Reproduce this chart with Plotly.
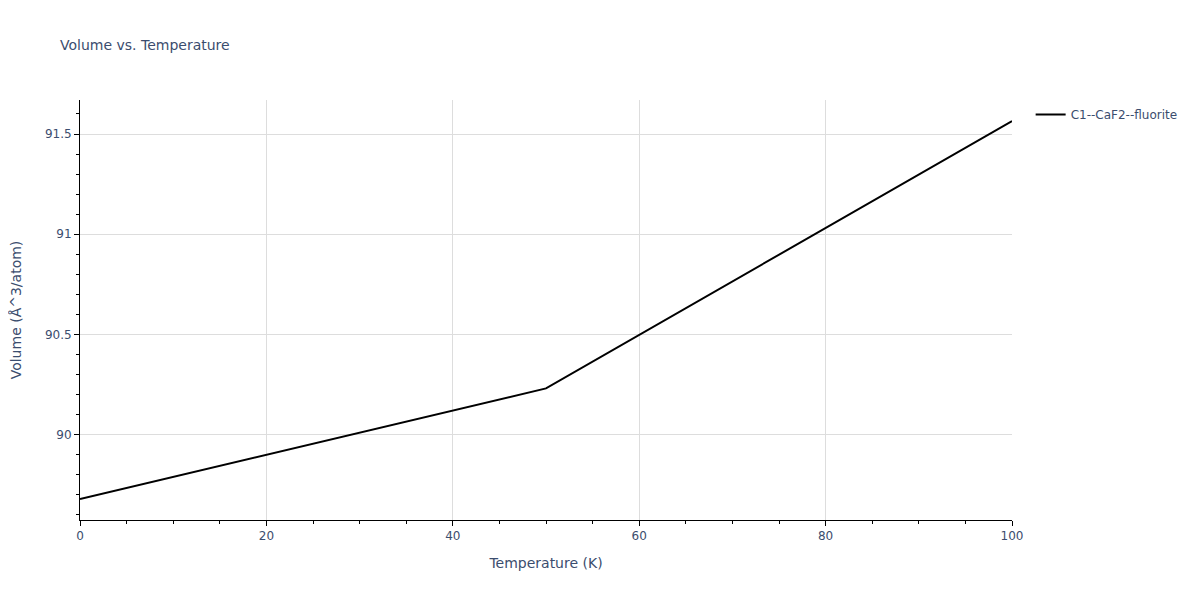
import plotly.graph_objects as go

# data -----------------------------------------------------------------------------------------------------------------
temperature = [0, 50, 100]
volume = [89.678, 90.23, 91.565]
series_name = 'C1--CaF2--fluorite'

fig = go.Figure()
fig.add_trace(go.Scatter(
    x=temperature,
    y=volume,
    mode='lines',
    name=series_name,
    line=dict(color='black', width=2),
    showlegend=True
))

axis_style = dict(
    showline=True,
    linecolor='black',
    linewidth=1,
    ticks='outside',
    tickcolor='black',
    showgrid=True,
    gridcolor='#dddddd',
    zeroline=False,
    mirror=False,
)

# page body has an 8px offset, so the margins are shifted to line up with the reference
fig.update_layout(
    title=dict(text='Volume vs. Temperature', x=52 / 1192, xanchor='left',
               yref='container', y=1 - 37 / 592, yanchor='middle', font=dict(size=14)),
    width=1192,
    height=592,
    plot_bgcolor='white',
    paper_bgcolor='white',
    font=dict(family='Verdana, DejaVu Sans, sans-serif', color='#3b4d6e', size=12),
    margin=dict(t=92, b=80, l=72, r=188, autoexpand=False),
    legend=dict(x=1.02, y=1, xanchor='left', yanchor='top'),
)
fig.update_xaxes(title_text='Temperature (K)', range=[0, 100], dtick=20,
                 minor=dict(ticks='outside', dtick=5, tickcolor='black', showgrid=False), **axis_style)
fig.update_yaxes(title=dict(text='Volume (Å^3/atom)', standoff=22), dtick=0.5,
                 minor=dict(ticks='outside', dtick=0.1, tickcolor='black', showgrid=False), **axis_style)

fig.write_html('out.html')
